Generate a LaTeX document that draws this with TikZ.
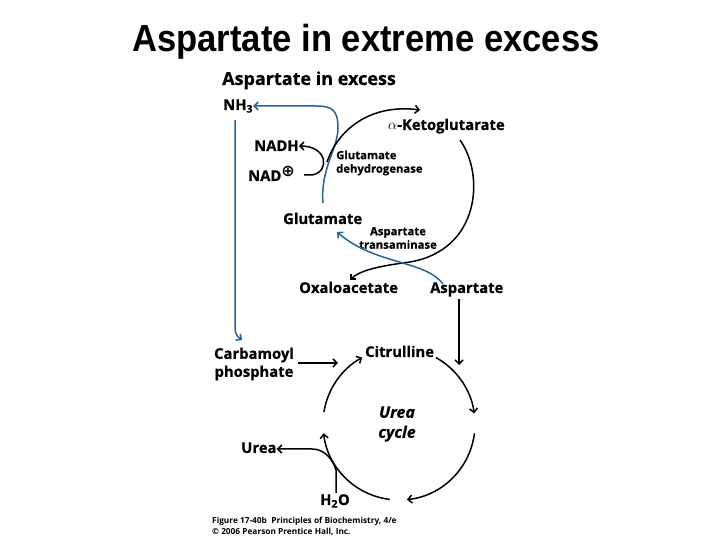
\documentclass[tikz,border=0pt]{standalone}
\usepackage{fontspec}
\setmainfont{Open Sans}
\newfontfamily\lblfont[FakeBold=0.6]{Open Sans}
\newfontfamily\titlefont{Liberation Sans}
\newfontfamily\symfont{DejaVu Sans}
\usepackage{tikz}
\usetikzlibrary{arrows.meta}
\definecolor{pathblue}{RGB}{38,98,158}

\begin{document}
\begin{tikzpicture}[x=1pt,y=1pt,
  lbl/.style={font=\lblfont\fontsize{14.8}{18}\selectfont\bfseries, inner sep=0pt, anchor=base west},
  enz/.style={font=\lblfont\fontsize{11.3}{13.5}\selectfont\bfseries, inner sep=0pt},
  blk/.style={-{Straight Barb[length=4pt,width=8pt]}, line width=1.5pt},
  blu/.style={blk, color=pathblue}]

\useasboundingbox (0,0) rectangle (720,540);

\node[font=\titlefont\bfseries\fontsize{34.6}{40}\selectfont, anchor=base, inner sep=0pt] (title) at (366,488)
  {\scalebox{1}[1.09]{Aspartate in extreme excess}};

\node[lbl, font=\lblfont\fontsize{18}{20}\selectfont\bfseries] (aspex) at (222,455) {Aspartate in excess};
\node[lbl] (nh3) at (223,430) {NH\textsubscript{3}};
\node[lbl] (akg) at (388,410) {$\alpha$-Ketoglutarate};
\node[lbl] (nadh) at (254,389) {NADH};
\node[lbl] (nad) at (248,359) {NAD\raisebox{4pt}{\symfont\fontsize{16}{16}\selectfont ⊕}};
\node[enz, anchor=west, align=left] (gdh) at (336,377) {Glutamate\\dehydrogenase};
\node[lbl] (glu) at (283,316) {Glutamate};
\node[enz, align=center] (ast) at (398,302) {Aspartate\\transaminase};
\node[lbl] (oaa) at (299,247) {Oxaloacetate};
\node[lbl] (asp) at (430,247) {Aspartate};
\node[lbl, anchor=center, align=center] (cp) at (254,176) {Carbamoyl\\phosphate};
\node[lbl] (cit) at (365,183) {Citrulline};
\node[lbl, anchor=center, align=center, font=\lblfont\fontsize{16}{20}\selectfont\bfseries\itshape] (ucyc) at (397,116) {Urea\\cycle};
\node[lbl] (urea) at (241,87) {Urea};
\node[lbl] (h2o) at (320,35) {H\textsubscript{2}O};

\node[font=\fontsize{8.3}{11}\selectfont\bfseries, inner sep=0pt, anchor=west, align=left] (fig) at (212,14)
  {Figure 17-40b\ \ Principles of Biochemistry, 4/e\\\textcopyright{} 2006 Pearson Prentice Hall, Inc.};

% upper part
\draw[blu] (323,337) .. controls (320,370) and (338,392) .. (338,412)
  .. controls (338,430) and (332,434) .. (316,434) -- (nh3.east |- 316,434);
\draw[blu] (235,420) -- (235,213) .. controls (235,205) and (238,203) .. (242,200);
\draw[blk] (304,365) -- (312,365) .. controls (330,368) and (328,394) .. (nadh.east |- 312,394);
\draw[blk] (327,378) .. controls (340,415) and (375,436) .. (420,430);
\draw[blk] (460,400) .. controls (485,365) and (480,290) .. (410,278)
  .. controls (380,274) and (360,270) .. (350,260);
\draw[blu] (443,256) .. controls (425,280) and (375,275) .. (337,308);
\draw[blk] (459,241) -- (459,175);

% urea cycle
\coordinate (uc) at (399,116);
\foreach \a/\b in {171/119, 61/8, -7/-84, -97/-173}
  \draw[blk] ([shift={(\a:76)}]uc) arc[start angle=\a, end angle=\b, radius=76];
\draw[blk] (298,177) -- (338,177);
\draw[blk] (336,47) -- (336,70) .. controls (333,80) and (325,91) .. (312,91) -- (urea.east |- 312,91);

\end{tikzpicture}
\end{document}
